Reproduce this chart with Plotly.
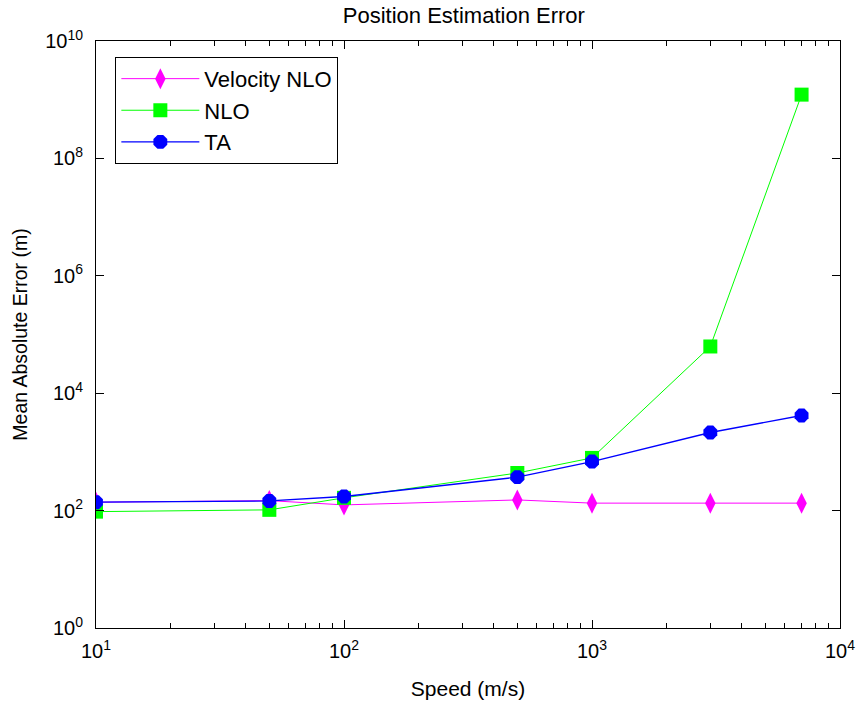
import plotly.graph_objects as go

# Speeds tested (m/s)
speed = [10, 50, 100, 500, 1000, 3000, 7000]

# Mean absolute position error (m) per estimator
velocity_nlo = [139, 148, 125, 152, 134, 134, 134]
nlo = [96, 103, 165, 437, 790, 62500, 1.22e9]
ta = [139, 146, 174, 371, 685, 2140, 4170]

x_tick_vals = [10, 100, 1000, 10000]
x_tick_text = ["10<sup>1</sup>", "10<sup>2</sup>", "10<sup>3</sup>", "10<sup>4</sup>"]
y_tick_vals = [1, 1e2, 1e4, 1e6, 1e8, 1e10]
y_tick_text = ["10<sup>0</sup>", "10<sup>2</sup>", "10<sup>4</sup>", "10<sup>6</sup>",
               "10<sup>8</sup>", "10<sup>10</sup>"]

FONT = "Liberation Sans, Arial, sans-serif"

fig = go.Figure()
fig.add_trace(go.Scatter(
    x=speed, y=velocity_nlo, name="Velocity NLO", mode="lines+markers",
    legendgroup="a",
    line=dict(color="#FF00FF", width=1),
    marker=dict(symbol="diamond-tall", size=15, color="#FF00FF"),
))
fig.add_trace(go.Scatter(
    x=speed, y=nlo, name="NLO", mode="lines+markers",
    legendgroup="b",
    line=dict(color="#00FF00", width=1),
    marker=dict(symbol="square", size=14, color="#00FF00"),
))
fig.add_trace(go.Scatter(
    x=speed, y=ta, name="TA", mode="lines+markers",
    legendgroup="c",
    line=dict(color="#0000FF", width=1.3),
    marker=dict(symbol="octagon", size=15, color="#0000FF"),
))

axis_common = dict(
    showgrid=False, zeroline=False, automargin=False,
    showline=True, linecolor="black", linewidth=1,
    mirror="ticks", ticks="inside", tickcolor="black",
    tickfont=dict(family=FONT, size=20, color="black"),
)

fig.update_xaxes(
    type="log", range=[1, 4],
    tickvals=x_tick_vals, ticktext=x_tick_text, ticklen=8,
    ticklabelstandoff=5,
    minor=dict(ticks="inside", ticklen=5, tickcolor="black", dtick="D1", showgrid=False),
    title_text="Speed (m/s)", title_standoff=20,
    title_font=dict(family=FONT, size=21, color="black"),
    **axis_common,
)
fig.update_yaxes(
    type="log", range=[0, 10],
    tickvals=y_tick_vals, ticktext=y_tick_text, ticklen=8,
    ticklabelstandoff=8,
    title_text="Mean Absolute Error (m)", title_standoff=12,
    title_font=dict(family=FONT, size=19.5, color="black"),
    **axis_common,
)

fig.update_layout(
    width=859, height=703,
    margin=dict(l=96, r=19, t=41, b=75),
    paper_bgcolor="white", plot_bgcolor="white",
    title=dict(text="Position Estimation Error", x=0.54, xanchor="center",
               y=0.978, yanchor="middle",
               font=dict(family=FONT, size=22, color="black")),
    font=dict(family=FONT, color="black"),
    showlegend=True,
    legend=dict(
        x=0.026, y=0.973, xanchor="left", yanchor="top",
        bgcolor="white", bordercolor="black", borderwidth=1,
        font=dict(family=FONT, size=22, color="black"),
        itemwidth=78, tracegroupgap=0, traceorder="grouped",
    ),
)

fig.write_html("out.html")
